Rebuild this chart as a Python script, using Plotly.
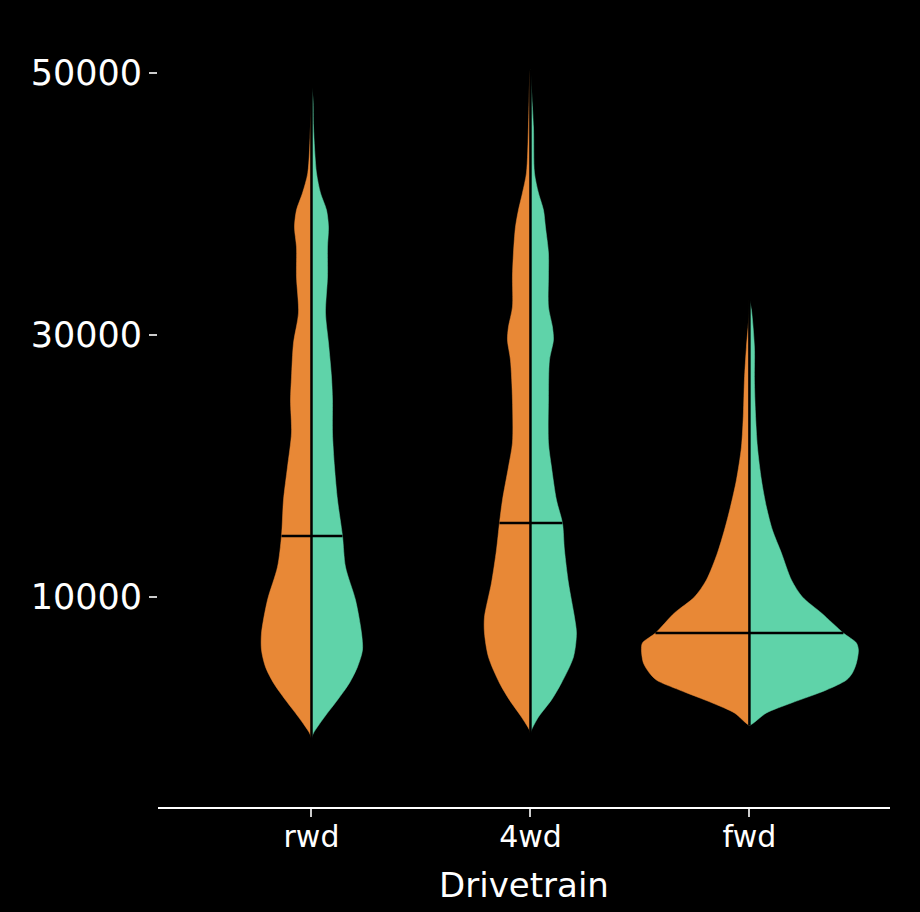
import numpy as np
import plotly.graph_objects as go

# ---------------- data ----------------
categories = ["rwd", "4wd", "fwd"]

# price levels (y) and relative density of each half (left = orange, right = green)
rwd_price = [-760, -380, 840, 2140, 3440, 4660, 5950, 7250, 9770, 12290, 14660,
             17400, 19920, 22520, 25040, 26790, 29390, 31680, 34430, 36720,
             38240, 39540, 40840, 42370, 45880, 47940, 48930]
rwd_left = [0.00, 0.02, 0.13, 0.26, 0.38, 0.46, 0.50, 0.50, 0.44, 0.34, 0.30,
            0.28, 0.24, 0.20, 0.21, 0.20, 0.18, 0.13, 0.15, 0.15,
            0.17, 0.15, 0.09, 0.037, 0.01, 0.00, 0.00]
rwd_right = [0.00, 0.02, 0.13, 0.26, 0.38, 0.46, 0.51, 0.50, 0.44, 0.34, 0.31,
             0.26, 0.23, 0.21, 0.21, 0.20, 0.17, 0.14, 0.16, 0.16,
             0.17, 0.15, 0.09, 0.05, 0.02, 0.015, 0.00]

awd_price = [-380, -150, 840, 2140, 3440, 5420, 7250, 8470, 11070, 13590, 15650,
             17400, 19920, 21760, 25040, 28090, 29620, 30610, 32140, 34430,
             36260, 38240, 39540, 40840, 42370, 45880, 50000, 50230]
awd_left = [0.00, 0.01, 0.09, 0.21, 0.31, 0.42, 0.46, 0.46, 0.39, 0.34, 0.31,
            0.28, 0.22, 0.18, 0.18, 0.20, 0.23, 0.22, 0.18, 0.18,
            0.17, 0.15, 0.12, 0.08, 0.04, 0.02, 0.005, 0.00]
awd_right = [0.00, 0.01, 0.08, 0.21, 0.31, 0.43, 0.46, 0.44, 0.38, 0.34, 0.32,
             0.26, 0.21, 0.18, 0.18, 0.19, 0.23, 0.22, 0.18, 0.18,
             0.18, 0.15, 0.13, 0.08, 0.04, 0.03, 0.00, 0.00]

fwd_price = [230, 1150, 1910, 2900, 3660, 4200, 4960, 5950, 6490, 7250, 8780,
             10000, 11300, 13360, 15110, 16870, 18930, 21450, 24050, 26560,
             29080, 31910, 32670]
fwd_left = [0.00, 0.15, 0.37, 0.70, 0.93, 1.00, 1.06, 1.08, 1.07, 0.94, 0.75,
            0.55, 0.43, 0.32, 0.25, 0.19, 0.13, 0.08, 0.06, 0.05,
            0.03, 0.00, 0.00]
fwd_right = [0.00, 0.17, 0.42, 0.77, 0.97, 1.03, 1.07, 1.09, 1.07, 0.94, 0.72,
             0.53, 0.42, 0.32, 0.23, 0.17, 0.12, 0.08, 0.06, 0.05,
             0.05, 0.02, 0.00]

medians = [14660, 15650, 7250]

y_ticks = [10000, 30000, 50000]

# ---------------- styling ----------------
ORANGE = "#E88836"
GREEN = "#5FD3A9"
SCALE = 0.4566  # relative density -> half width in category units
FONT = "DejaVu Sans"

profiles = [
    (rwd_price, rwd_left, rwd_right),
    (awd_price, awd_left, awd_right),
    (fwd_price, fwd_left, fwd_right),
]

fig = go.Figure()

for i, (price, left, right) in enumerate(profiles):
    p = np.array(price, dtype=float)
    for dens, sign, color in ((np.array(left), -1, ORANGE), (np.array(right), 1, GREEN)):
        xs = np.concatenate([i + sign * dens * SCALE, np.full(len(p), float(i))[::-1]])
        ys = np.concatenate([p, p[::-1]])
        fig.add_trace(go.Scatter(
            x=xs, y=ys, mode="lines", fill="toself", fillcolor=color,
            line=dict(color=color, width=0.5, shape="spline", smoothing=0.8),
            hoverinfo="skip", showlegend=False,
        ))
    # centre line
    fig.add_trace(go.Scatter(
        x=[i, i], y=[p.min(), p.max()], mode="lines",
        line=dict(color="black", width=2.5), hoverinfo="skip", showlegend=False,
    ))
    # median line
    m = medians[i]
    wl = np.interp(m, p, left) * SCALE
    wr = np.interp(m, p, right) * SCALE
    fig.add_trace(go.Scatter(
        x=[i - wl, i + wr], y=[m, m], mode="lines",
        line=dict(color="black", width=2.5), hoverinfo="skip", showlegend=False,
    ))

fig.update_layout(
    width=920, height=912,
    paper_bgcolor="black", plot_bgcolor="black",
    margin=dict(l=158, r=30, t=20, b=105),
    font=dict(family=FONT, color="white"),
    showlegend=False,
)
fig.update_xaxes(
    range=[-0.701, 2.642],
    tickvals=list(range(len(categories))), ticktext=categories,
    showgrid=False, zeroline=False,
    showline=True, linecolor="white", linewidth=2,
    ticks="outside", ticklen=8, tickwidth=1.5, tickcolor="#cccccc",
    ticklabelstandoff=-6,
    tickfont=dict(size=30, color="white", family=FONT),
    title=dict(text="Drivetrain", font=dict(size=34, color="white", family=FONT), standoff=20),
)
fig.update_yaxes(
    range=[-6030, 54045],
    tickvals=y_ticks, ticktext=[str(v) for v in y_ticks],
    showgrid=False, zeroline=False, showline=False,
    ticks="outside", ticklen=8, tickwidth=1.5, tickcolor="#cccccc",
    tickfont=dict(size=35, color="white", family=FONT),
)

fig.write_html(
    "out.html",
    config={"displayModeBar": False},
    post_script="document.body.style.margin='0';document.body.style.background='black';",
)
